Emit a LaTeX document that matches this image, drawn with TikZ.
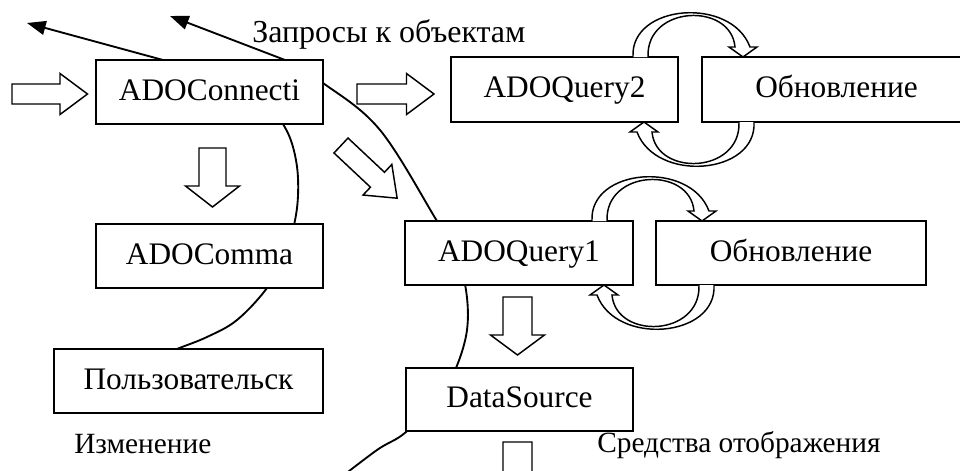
\documentclass[tikz,border=0pt]{standalone}
\usepackage{fontspec}
\setmainfont{Liberation Serif}
\usetikzlibrary{arrows.meta,backgrounds}

% hollow straight block arrow: tail centre x,y, angle, length, shaft half width, head half width, head length
\newcommand{\hollowarrow}[7]{%
  \draw[blockarrow, shift={(#1,#2)}, rotate=#3]
    (0,-#5) -- ({#4-#7},-#5) -- ({#4-#7},-#6) -- (#4,0) -- ({#4-#7},#6) -- ({#4-#7},#5) -- (0,#5) -- cycle;}

% hollow curved block arrow: outer start x,y, rotation
\newcommand{\curvedarrow}[3]{%
  \filldraw[blockarrow, shift={(#1,#2)}, rotate=#3]
    (0,0) .. controls (-3,-53) and (98,-61) .. (117,-10)
    -- (124,-10) -- (110,0) -- (96,-10) -- (102,-10)
    .. controls (98,-55) and (13,-52) .. (15,0);}

\begin{document}
\begin{tikzpicture}[x=0.75pt,y=-0.75pt,
  box/.style={draw, fill=white, line width=1.1pt, inner sep=0pt,
    minimum height=48pt, text height=16pt, text depth=4pt,
    font=\fontsize{23.5}{28}\selectfont},
  lbl/.style={inner sep=0pt, anchor=base west, font=\fontsize{22}{26}\selectfont},
  blockarrow/.style={draw, fill=white, line width=1.1pt, line join=miter},
  curveline/.style={line width=1.4pt},
  endarrow/.style={-{Triangle[length=14pt,width=10.5pt]}}]
\useasboundingbox (0,0) rectangle (960,471);

% boxes
\node[box, minimum width=170.25pt] (conn) at (209.5,92) {ADOConnecti};
\node[box, minimum width=170.25pt, minimum height=48.75pt] (q2) at (564.5,89.5) {ADOQuery2};
\node[box, minimum width=201.75pt, minimum height=48.75pt] (upd2) at (836.5,89.5) {Обновление};
\node[box, minimum width=170.25pt] (comma) at (209.5,256) {ADOComma};
\node[box, minimum width=171pt] (q1) at (519,253) {ADOQuery1};
\node[box, minimum width=202.5pt] (upd1) at (791,253) {Обновление};
\node[box, minimum width=201.75pt] (user) at (188.5,381) {Пользовательск};
\node[box, minimum width=170.25pt, minimum height=47.25pt] (ds) at (519.5,399.5) {DataSource};

% labels
\node[lbl, font=\fontsize{24}{28}\selectfont] (lq) at (252,42) {Запросы к объектам};
\node[lbl] (lch) at (74,453) {Изменение};
\node[lbl] (lvis) at (597,452) {Средства отображения};

% thin curves behind the boxes
\coordinate (t1) at (27,23);
\coordinate (t2) at (170,16);
\coordinate (s1) at (163,60);
\coordinate (s2) at (285,60);
\begin{scope}[on background layer]
\draw[curveline] plot[smooth, tension=0.6] coordinates {(265,100) (283,124) (293,147) (298,178) (296,215) (285,255) (267,288) (237,320) (207,337) (177,349) (160,357)};
\draw[curveline] plot[smooth, tension=0.6] coordinates {(335,482) (377,450) (406,432) (440,395) (456,368) (467,330) (466,290) (455,250) (437,221) (380,130) (323,83) (285,60)};
\draw[curveline, endarrow] (s1) -- (t1);
\draw[curveline, endarrow] (s2) -- (t2);
\end{scope}

% straight block arrows
\hollowarrow{12}{94}{0}{75.5}{10}{20.5}{27.5}
\hollowarrow{357}{94}{0}{77}{10}{20.5}{27.5}
\hollowarrow{212.5}{148}{-90}{59}{13.5}{27}{21}
\hollowarrow{341}{145.5}{-43.2}{77}{10.25}{21}{27}
\hollowarrow{517.5}{297}{-90}{58}{14.5}{27}{20}
\hollowarrow{517.5}{442}{-90}{80}{14.5}{27}{20}

% curved block arrows
\curvedarrow{592}{221}{0}
\curvedarrow{714}{285}{180}
\curvedarrow{633}{57}{0}
\curvedarrow{754}{122}{180}
\end{tikzpicture}
\end{document}
